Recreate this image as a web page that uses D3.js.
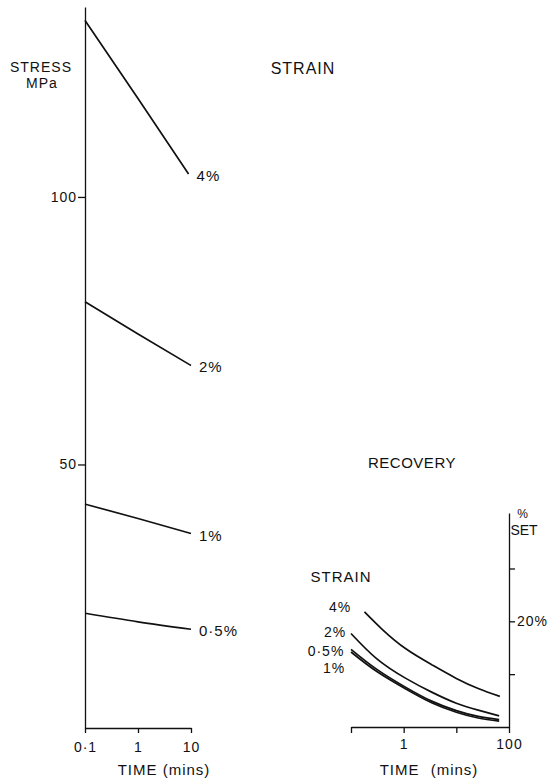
<!DOCTYPE html>
<html>
<head>
<meta charset="utf-8">
<script src="https://cdn.jsdelivr.net/npm/d3@7"></script>
<style>
  body { margin: 0; background: #fff; }
  svg { display: block; }
  text { font-family: "Liberation Sans", Arial, sans-serif; fill: #111; letter-spacing: 1px; }
  .axis path, .axis line { stroke: #111; stroke-width: 1.3; }
  .axis text { font-size: 14px; }
  .curve { fill: none; stroke: #111; stroke-width: 1.7; }
</style>
</head>
<body>
<div id="viz"></div>
<script>
// stress relaxation (left), MPa vs time in mins
var stressLabels = ['4%', '2%', '1%', '0·5%'];
var stressTimes4 = [0.1, 1, 9];
var stressTimes = [0.1, 1, 10];
var stress4 = [133, 118.4, 104.3];
var stress2 = [80.4, 74.4, 68.5];
var stress1 = [42.6, 39.9, 37.1];
var stress05 = [22.2, 20.6, 19.2];
var stressTicks = [50, 100];
var timeTicksL = [0.1, 1, 10];
var timeTickLabelsL = ['0·1', '1', '10'];

// recovery (right), % set vs time in mins
var recLabels = ['4%', '2%', '0·5%', '1%'];
var recTimes4 = [0.18, 0.4, 1.1, 3.4, 10, 26, 67];
var recTimes = [0.1, 0.31, 1.1, 3.4, 10, 26, 65];
var set4 = [21.8, 18.4, 14.8, 11.8, 9.2, 7.3, 5.8];
var set2 = [17.7, 12.9, 9.2, 6.6, 4.5, 3.2, 2.1];
var set05 = [14.7, 10.9, 7.5, 4.9, 3.1, 2.0, 1.4];
var set1 = [14.2, 10.5, 7.2, 4.6, 2.8, 1.7, 1.1];
var setTicks = [10, 20, 30];
var timeTicksR = [0.1, 1, 10, 100];

var W = 554, H = 784;
var svg = d3.select('#viz').append('svg').attr('width', W).attr('height', H);

// ---- left panel
var xL = d3.scaleLog().domain([0.1, 10]).range([85, 191]);
var yL = d3.scaleLinear().domain([0.75, 135.5]).range([728, 7]);

svg.append('g').attr('class', 'axis')
  .attr('transform', 'translate(85,0)')
  .call(d3.axisLeft(yL).tickValues(stressTicks).tickSize(7).tickSizeOuter(0).tickPadding(1));

svg.append('g').attr('class', 'axis')
  .attr('transform', 'translate(0,728)')
  .call(d3.axisBottom(xL).tickValues(timeTicksL).tickSize(5).tickSizeOuter(0).tickPadding(9)
    .tickFormat(function(d, i) { return timeTickLabelsL[i]; }));

var lineL = d3.line().x(function(d) { return xL(d[0]); }).y(function(d) { return yL(d[1]); })
  .curve(d3.curveNatural);

var stressSeries = [
  d3.zip(stressTimes4, stress4),
  d3.zip(stressTimes, stress2),
  d3.zip(stressTimes, stress1),
  d3.zip(stressTimes, stress05)
];
svg.selectAll('.sl').data(stressSeries).enter().append('path')
  .attr('class', 'curve').attr('d', lineL);

svg.selectAll('.slab').data(stressSeries).enter().append('text')
  .attr('x', function(d) { return xL(d[d.length - 1][0]) + 8; })
  .attr('y', function(d) { return yL(d[d.length - 1][1]) + 7; })
  .style('font-size', '15px')
  .text(function(d, i) { return stressLabels[i]; });

svg.append('text').attr('x', 41).attr('y', 72).attr('text-anchor', 'middle')
  .style('font-size', '14px').style('letter-spacing', '1px').text('STRESS');
svg.append('text').attr('x', 42).attr('y', 88).attr('text-anchor', 'middle')
  .style('font-size', '14px').text('MPa');
svg.append('text').attr('x', 303).attr('y', 74).attr('text-anchor', 'middle')
  .style('font-size', '16px').text('STRAIN');
svg.append('text').attr('x', 164).attr('y', 775).attr('text-anchor', 'middle')
  .style('font-size', '15px').text('TIME (mins)');

// ---- right panel
var xR = d3.scaleLog().domain([0.1, 100]).range([351, 509]);
var yR = d3.scaleLinear().domain([0, 40.5]).range([727, 513]);

svg.append('g').attr('class', 'axis')
  .attr('transform', 'translate(509,0)')
  .call(d3.axisRight(yR).tickValues(setTicks).tickSize(6).tickSizeOuter(0).tickPadding(2)
    .tickFormat(function(d) { return d === 20 ? '20%' : ''; }));

svg.append('g').attr('class', 'axis')
  .attr('transform', 'translate(0,727)')
  .call(d3.axisBottom(xR).tickValues(timeTicksR).tickSize(6).tickSizeOuter(0).tickPadding(6)
    .tickFormat(function(d) { return (d === 1 || d === 100) ? d : ''; }));

var lineR = d3.line().x(function(d) { return xR(d[0]); }).y(function(d) { return yR(d[1]); })
  .curve(d3.curveNatural);

var recSeries = [
  d3.zip(recTimes4, set4),
  d3.zip(recTimes, set2),
  d3.zip(recTimes, set05),
  d3.zip(recTimes, set1)
];
svg.selectAll('.rl').data(recSeries).enter().append('path')
  .attr('class', 'curve').attr('d', lineR);

var recLabelPos = [[340, 612], [335, 637], [326, 656], [334, 673]];
svg.selectAll('.rlab').data(recLabels).enter().append('text')
  .attr('x', function(d, i) { return recLabelPos[i][0]; })
  .attr('y', function(d, i) { return recLabelPos[i][1]; })
  .attr('text-anchor', 'middle')
  .style('font-size', '14px')
  .text(function(d) { return d; });

svg.append('text').attr('x', 341).attr('y', 582).attr('text-anchor', 'middle')
  .style('font-size', '15px').text('STRAIN');
svg.append('text').attr('x', 412).attr('y', 468).attr('text-anchor', 'middle')
  .style('font-size', '15px').style('letter-spacing', '0.5px').text('RECOVERY');
svg.append('text').attr('x', 523).attr('y', 518).attr('text-anchor', 'middle')
  .style('font-size', '12px').text('%');
svg.append('text').attr('x', 524).attr('y', 535).attr('text-anchor', 'middle')
  .style('font-size', '14px').style('letter-spacing', '0px').text('SET');
svg.append('text').attr('x', 429).attr('y', 775).attr('text-anchor', 'middle')
  .style('font-size', '15px').style('word-spacing', '6px').text('TIME (mins)');
</script>
</body>
</html>
